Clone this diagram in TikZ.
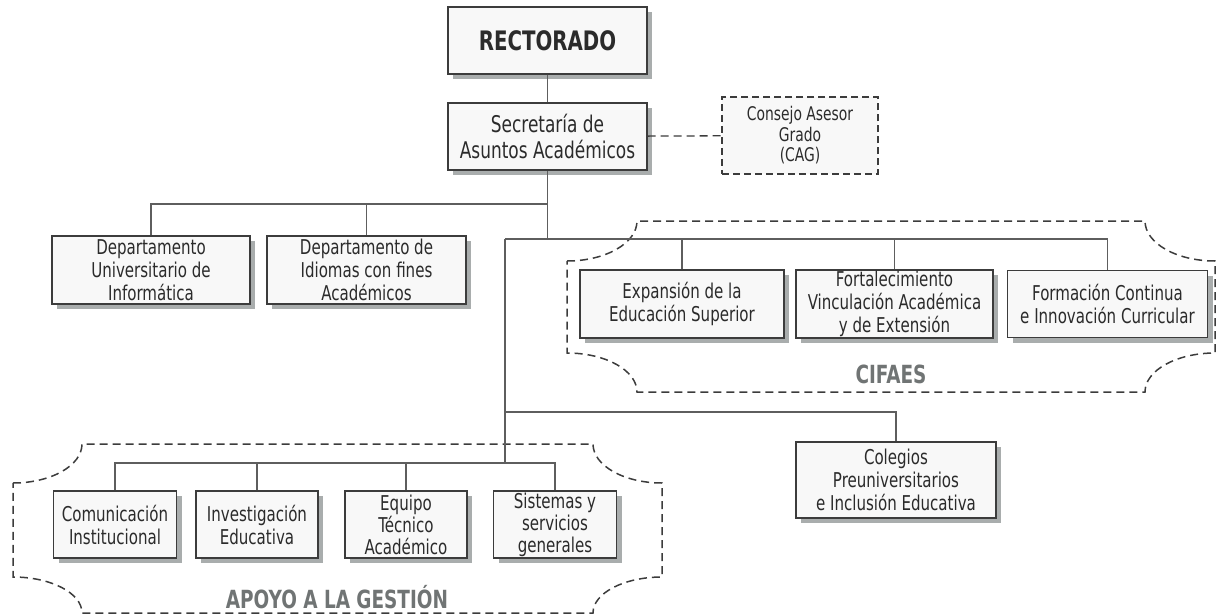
\documentclass[tikz,border=0pt]{standalone}
\usepackage{fontspec}
\setmainfont{DejaVu Sans Condensed}[FakeStretch=0.82]
\usepackage{xcolor}
\usepackage{tikz}
\definecolor{boxline}{HTML}{3C3C3C}
\definecolor{boxfill}{HTML}{F8F8F8}
\definecolor{boxshade}{HTML}{A9ADAD}
\definecolor{linkgray}{HTML}{5E5E5E}
\definecolor{groupgray}{HTML}{707474}
\definecolor{textdark}{HTML}{2B2B2B}

\begin{document}
\begin{tikzpicture}[x=1pt, y=-1pt,
  unit/.style={draw=boxline, fill=boxfill, line width=1.4pt, text=textdark,
    align=center, inner sep=0pt, font=\fontsize{20.4}{23}\selectfont,
    preaction={fill=boxshade, transform canvas={xshift=5pt, yshift=-5pt}}},
  link/.style={draw=linkgray, line width=1.1pt},
  group/.style={draw=boxline, line width=1.5pt, dash pattern=on 8pt off 5pt},
  grouplabel/.style={text=groupgray, font=\bfseries\fontsize{25}{28}\selectfont}]
\useasboundingbox (0,0) rectangle (1216,616);

% dashed groups
\draw[group] (567,261) arc[start angle=90, end angle=0, x radius=70, y radius=40]
  -- (1145,221) arc[start angle=180, end angle=90, x radius=70, y radius=40]
  -- (1215,353) arc[start angle=270, end angle=180, x radius=70, y radius=39]
  -- (637,392) arc[start angle=0, end angle=-90, x radius=70, y radius=39] -- cycle;
\node[grouplabel] (cifaes) at (891,374) {CIFAES};
\draw[group] (13,483) arc[start angle=90, end angle=0, x radius=69, y radius=39]
  -- (593,444) arc[start angle=180, end angle=90, x radius=69, y radius=39]
  -- (662,577) arc[start angle=270, end angle=180, x radius=69, y radius=36]
  -- (82,613) arc[start angle=0, end angle=-90, x radius=69, y radius=36] -- cycle;
\node[grouplabel] (apoyo) at (337,597) {APOYO A LA GESTIÓN};

% top
\node[unit, minimum width=199, minimum height=67, font=\bfseries\fontsize{26.8}{28}\selectfont]
  (rect) at (547.5,40.5) {RECTORADO};
\node[unit, minimum width=199, minimum height=67, font=\fontsize{23}{26}\selectfont]
  (sec) at (547.5,136.5) {Secretaría de\\Asuntos Académicos};
\node[draw=boxline, fill=boxfill, line width=1.4pt, dash pattern=on 7pt off 4pt,
  minimum width=156, minimum height=77, align=center, text=textdark,
  font=\fontsize{18.8}{20.5}\selectfont] (cag) at (800,135.5) {Consejo Asesor\\Grado\\(CAG)};

% departamentos
\node[unit, minimum width=198, minimum height=68] (dinf) at (151,270)
  {Departamento\\Universitario de\\Informática};
\node[unit, minimum width=199, minimum height=68] (didi) at (366.5,270)
  {Departamento de\\Idiomas con fines\\Académicos};

% CIFAES
\node[unit, minimum width=204, minimum height=68] (exp) at (682,304)
  {Expansión de la\\Educación Superior};
\node[unit, minimum width=197, minimum height=68] (fort) at (894.5,304)
  {Fortalecimiento\\Vinculación Académica\\y de Extensión};
\node[unit, minimum width=200, minimum height=67] (form) at (1107.5,304)
  {Formación Continua\\e Innovación Curricular};

\node[unit, minimum width=200, minimum height=76] (cole) at (896,480)
  {Colegios\\Preuniversitarios\\e Inclusión Educativa};

% apoyo a la gestion
\node[unit, minimum width=123, minimum height=67] (com) at (115,524.5)
  {Comunicación\\Institucional};
\node[unit, minimum width=122, minimum height=67] (inv) at (257,524.5)
  {Investigación\\Educativa};
\node[unit, minimum width=122, minimum height=67, font=\fontsize{20.4}{22}\selectfont] (equ) at (406,524.5)
  {Equipo\\Técnico\\Académico};
\node[unit, minimum width=123, minimum height=67, font=\fontsize{20.4}{22}\selectfont] (sis) at (555,524.5)
  {Sistemas y\\servicios\\generales};

% connectors
\coordinate (j1) at (547.5,204);
\coordinate (j2) at (547.5,239);
\coordinate (j3) at (505,239);
\coordinate (j4) at (505,412);
\coordinate (j5) at (505,463);
\draw[link] (rect) -- (sec);
\draw[group, line width=1.3pt] (sec) -- (cag);
\draw[link] (sec.south) -- (j2);
\draw[link] (dinf.north) |- (j1);
\draw[link] (didi.north) -- (didi.north |- j1);
\draw[link] (j3) -| (form.north);
\foreach \n in {exp, fort}
  \draw[link] (\n.north) -- (\n.north |- j3);
\draw[link] (j3) -- (j5);
\draw[link] (j4) -| (cole.north);
\draw[link] (com.north) |- (sis.north |- j5) -- (sis.north);
\foreach \n in {inv, equ}
  \draw[link] (\n.north) -- (\n.north |- j5);
\end{tikzpicture}
\end{document}
